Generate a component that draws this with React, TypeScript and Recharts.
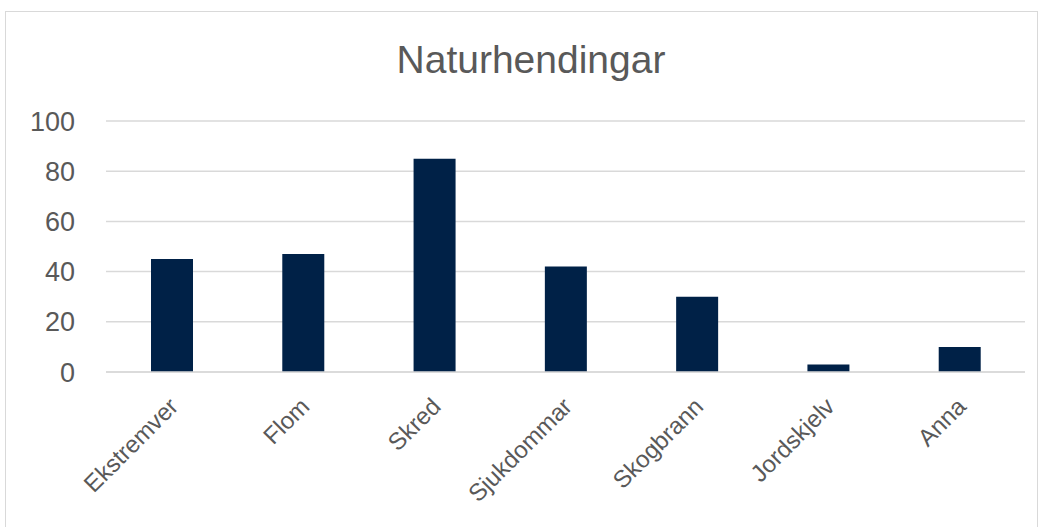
import { Bar, BarChart, CartesianGrid, XAxis, YAxis } from "recharts";

const categories = ["Ekstremver", "Flom", "Skred", "Sjukdommar", "Skogbrann", "Jordskjelv", "Anna"];
const counts = [45, 47, 85, 42, 30, 3, 10];
const yTicks = [0, 20, 40, 60, 80, 100];

const data = categories.map((name, i) => ({ name, value: counts[i] }));

const FONT = "'Liberation Sans', Arial, sans-serif";

function SlantTick({ x, y, payload }: any) {
    return (
        <text
            x={x + 8}
            y={y + 36}
            transform={`rotate(-45, ${x + 8}, ${y + 36})`}
            textAnchor="end"
            fill="#595959"
            fontSize={24}
            fontFamily={FONT}
        >
            {payload.value}
        </text>
    );
}

export default function App() {
    return (
        <div style={{ position: "absolute", left: 0, top: 0, width: 1043, height: 527, background: "#fff", overflow: "hidden" }}>
            <div
                style={{
                    position: "absolute",
                    left: 5,
                    top: 11,
                    width: 1033,
                    height: 540,
                    border: "1px solid #d9d9d9",
                    boxSizing: "border-box",
                }}
            />
            <div
                style={{
                    position: "absolute",
                    left: 0,
                    top: 35,
                    width: 1062,
                    textAlign: "center",
                    fontFamily: FONT,
                    fontSize: 39,
                    color: "#595959",
                    lineHeight: "50px",
                }}
            >
                Naturhendingar
            </div>
            <BarChart
                width={1043}
                height={527}
                data={data}
                margin={{ top: 121, right: 18, left: 0, bottom: 10 }}
                barSize={42}
                style={{ position: "absolute", left: 0, top: 0 }}
            >
                <CartesianGrid vertical={false} stroke="#d9d9d9" strokeWidth={1.5} />
                <XAxis
                    dataKey="name"
                    interval={0}
                    height={145}
                    axisLine={{ stroke: "#d9d9d9", strokeWidth: 1.5 }}
                    tickLine={false}
                    tickSize={0}
                    tickMargin={0}
                    tick={<SlantTick />}
                />
                <YAxis
                    width={106}
                    domain={[0, 100]}
                    ticks={yTicks}
                    axisLine={false}
                    tickLine={false}
                    tickSize={0}
                    tickMargin={31}
                    tick={{ fill: "#595959", fontSize: 27, fontFamily: FONT }}
                />
                <Bar dataKey="value" fill="#002147" isAnimationActive={false} />
            </BarChart>
        </div>
    );
}
